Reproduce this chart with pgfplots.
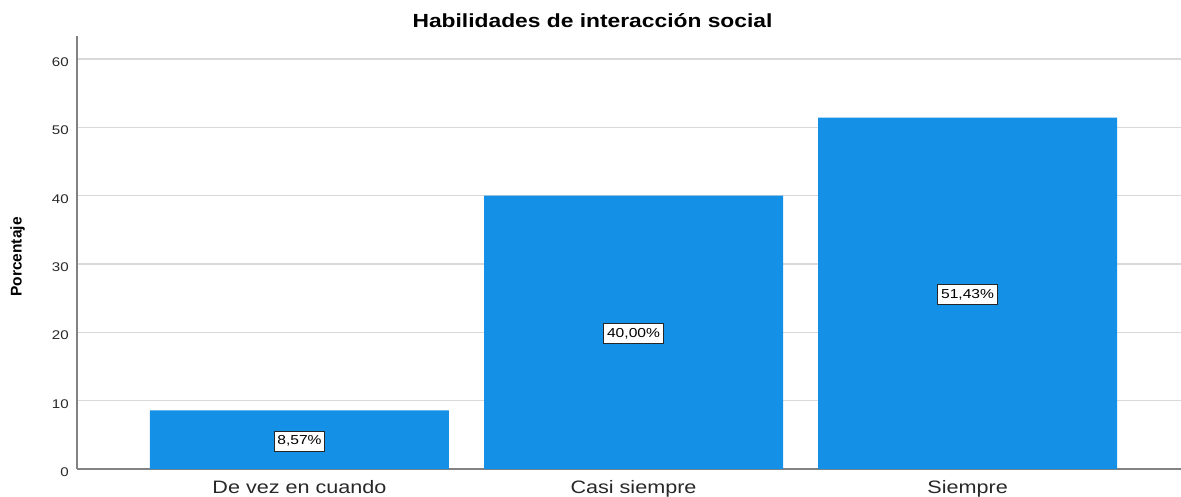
\documentclass[border=0pt]{standalone}
\usepackage{pgfplots}
\pgfplotsset{compat=1.18}
\usepackage{fontspec}
\setmainfont{Liberation Sans}
\newfontfamily\wide[FakeStretch=1.2]{Liberation Sans}
\definecolor{barblue}{RGB}{20,144,230}
\definecolor{gridgray}{RGB}{217,217,217}
\definecolor{axisgray}{RGB}{130,130,130}
\definecolor{txt}{RGB}{40,40,40}
\begin{document}
\begin{tikzpicture}
\useasboundingbox (0,0) rectangle (1181pt,496pt);
\begin{axis}[
  at={(77pt,27pt)}, anchor=south west,
  scale only axis, width=1104pt, height=433pt,
  xmin=-0.666, xmax=2.639, ymin=0, ymax=63.37,
  ybar, bar width=0.895,
  xtick={0,1,2}, xticklabels={De vez en cuando, Casi siempre, Siempre},
  ytick={0,10,...,60},
  /pgf/number format/assume math mode=true,
  axis x line*=bottom, axis y line*=left,
  axis line style={axisgray, line width=1.4pt, -},
  ymajorgrids, grid style={gridgray, line width=1.4pt},
  major tick length=0pt, tick style={draw=none},
  xticklabel style={font=\wide\fontsize{18}{20}\selectfont, anchor=base, yshift=-24pt, text=txt},
  yticklabel style={font=\wide\fontsize{12.6}{14}\selectfont, anchor=east, inner sep=0pt, xshift=-8pt, yshift=-3pt, text=txt},
  nodes near coords,
  point meta=explicit symbolic,
  visualization depends on={y \as \rawy},
  every node near coord/.append style={anchor=center, shift={(axis direction cs:0,-\rawy/2)}, yshift=-1.5pt,
    fill=white, draw=black!85, line width=0.9pt, font=\wide\fontsize{13}{15}\selectfont, text=black,
    inner xsep=3.2pt, inner ysep=0pt, minimum height=20pt},
]
\addplot[fill=barblue, draw=none] coordinates {(0,8.57) [8,57\%] (1,40) [40,00\%] (2,51.43) [51,43\%]};
\end{axis}
\node[anchor=base, font=\wide\bfseries\fontsize{19}{22}\selectfont, text=black] at (592.5pt,468.3pt) {Habilidades de interacción social};
\node[rotate=90, anchor=base, font=\bfseries\fontsize{15.5}{18}\selectfont, text=black] at (21.5pt,239pt) {Porcentaje};
\end{tikzpicture}
\end{document}
